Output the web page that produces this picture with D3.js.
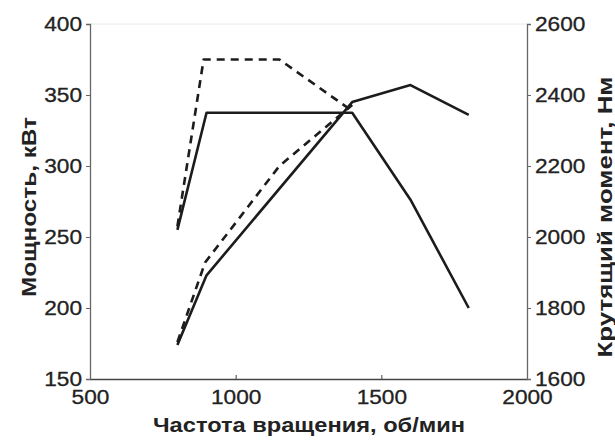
<!DOCTYPE html>
<html>
<head>
<meta charset="utf-8">
<script src="https://cdn.jsdelivr.net/npm/d3@7"></script>
<style>
  body { margin: 0; background: #fff; }
  text { font-family: "Liberation Sans", Arial, sans-serif; fill: #222; }
</style>
</head>
<body>
<div id="chart"></div>
<script>
// rpm ticks and axis ticks
var rpmTicks = [500, 1000, 1500, 2000];
var powerTicks = [150, 200, 250, 300, 350, 400];
var torqueTicks = [1600, 1800, 2000, 2200, 2400, 2600];

// power, kW (left axis)
var powerSolid = [[800, 174], [900, 223], [1400, 345], [1600, 357], [1800, 336]];
var powerDashed = [[800, 176], [895, 232], [1150, 300], [1400, 343]];
// torque, Nm (right axis)
var torqueSolid = [[800, 2020], [900, 2350], [1400, 2350], [1600, 2105], [1800, 1800]];
var torqueDashed = [[800, 2030], [890, 2500], [1150, 2500], [1400, 2355]];

var margin = {top: 24, right: 88, bottom: 61, left: 90},
    width = 615 - margin.left - margin.right,
    height = 440 - margin.top - margin.bottom;

var svg = d3.select("#chart")
  .append("svg")
    .attr("width", 615)
    .attr("height", 440)
  .append("g")
    .attr("transform", "translate(" + margin.left + "," + margin.top + ")");

var x = d3.scaleLinear().domain([500, 2000]).range([0, width]);
var yL = d3.scaleLinear().domain([150, 400]).range([height, 0]);
var yR = d3.scaleLinear().domain([1600, 2600]).range([height, 0]);
var fmt = d3.format("d");

// tick labels in the picture are a bit wide, stretch them
function styleTicks(g) {
  g.selectAll("text")
    .style("font-size", "20px")
    .attr("fill", "#222")
    .attr("stroke", "#222")
    .attr("stroke-width", 0.3)
    .attr("lengthAdjust", "spacingAndGlyphs")
    .attr("textLength", function() { return this.textContent.length * 12.6; });
}

// top border, faint
svg.append("line")
  .attr("x1", 0).attr("x2", width).attr("y1", 0).attr("y2", 0)
  .attr("stroke", "#e8e8e8").attr("stroke-width", 1);

// bottom axis, ticks inward
var xAxis = svg.append("g")
  .attr("transform", "translate(0," + height + ")")
  .call(d3.axisBottom(x).tickValues(rpmTicks).tickFormat(fmt).tickSizeInner(-4).tickSizeOuter(0).tickPadding(11));
xAxis.select(".domain").attr("stroke", "#444").attr("stroke-width", 1.3);
xAxis.selectAll(".tick line").attr("stroke", "#444");
styleTicks(xAxis);

// left axis
var lAxis = svg.append("g")
  .call(d3.axisLeft(yL).tickValues(powerTicks).tickFormat(fmt).tickSize(4).tickPadding(4));
lAxis.select(".domain").attr("stroke", "#666").attr("stroke-width", 1.3);
lAxis.selectAll(".tick line").attr("stroke", "#666");
styleTicks(lAxis);

// right axis
var rAxis = svg.append("g")
  .attr("transform", "translate(" + width + ",0)")
  .call(d3.axisRight(yR).tickValues(torqueTicks).tickFormat(fmt).tickSize(4).tickPadding(4));
rAxis.select(".domain").attr("stroke", "#666").attr("stroke-width", 1.3);
rAxis.selectAll(".tick line").attr("stroke", "#666");
styleTicks(rAxis);

// curves
var lineL = d3.line().x(function(d) { return x(d[0]); }).y(function(d) { return yL(d[1]); });
var lineR = d3.line().x(function(d) { return x(d[0]); }).y(function(d) { return yR(d[1]); });

function drawCurve(data, gen, dashed) {
  svg.append("path")
    .datum(data)
    .attr("d", gen)
    .attr("fill", "none")
    .attr("stroke", "#1c1c1c")
    .attr("stroke-width", 2.6)
    .attr("stroke-linejoin", "round")
    .attr("stroke-dasharray", dashed ? "8,6" : null);
}
drawCurve(powerSolid, lineL, false);
drawCurve(powerDashed, lineL, true);
drawCurve(torqueSolid, lineR, false);
drawCurve(torqueDashed, lineR, true);

// axis titles
function title(t, len) {
  t.attr("text-anchor", "middle")
    .style("font-size", "21px")
    .style("font-weight", "bold")
    .attr("lengthAdjust", "spacingAndGlyphs")
    .attr("textLength", len);
}

svg.append("text")
  .attr("x", 309 - margin.left)
  .attr("y", height + 53)
  .text("Частота вращения, об/мин")
  .call(title, 312);

svg.append("text")
  .attr("transform", "translate(" + (-54) + "," + (207 - margin.top) + ") rotate(-90)")
  .text("Мощность, кВт")
  .call(title, 180);

svg.append("text")
  .attr("transform", "translate(" + (width + 85) + "," + (217 - margin.top) + ") rotate(-90)")
  .text("Крутящий момент, Нм")
  .call(title, 281);
</script>
</body>
</html>
